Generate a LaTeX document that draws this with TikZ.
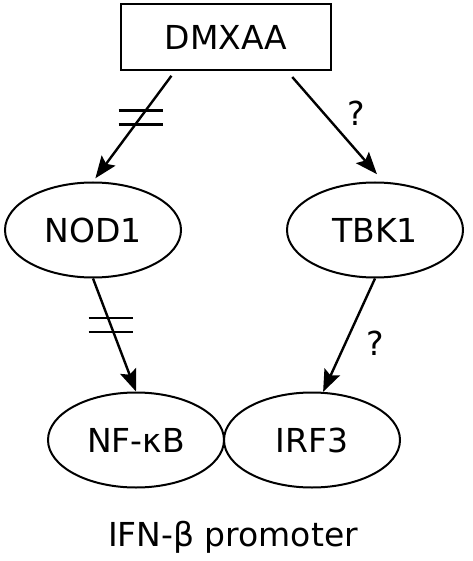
\documentclass[tikz,border=0pt]{standalone}
\usepackage{fontspec}
\setmainfont{DejaVu Sans}
\usetikzlibrary{shapes.geometric,arrows.meta}

\begin{document}
\begin{tikzpicture}[x=1pt,y=-1pt,line width=2pt,font=\fontsize{33}{40}\selectfont,
    ell/.style={ellipse,draw,minimum width=176pt,minimum height=95pt,inner sep=0pt},
    arr/.style={-{Stealth[length=22pt,width=17pt,inset=4pt]},line width=2.4pt}]
        \useasboundingbox (0,0) rectangle (472,561);

        % 节点
        \node[draw,minimum width=210pt,minimum height=66pt] (dmxaa) at (226,37) {DMXAA};
        \node[ell] (nod1) at (93,230) {NOD1};
        \node[ell] (tbk1) at (375,230) {TBK1};
        \node[ell] (nfkb) at (136,440) {NF-κB};
        \node[ell] (irf3) at (312,440) {IRF3};
        \node[anchor=base] (ifnb) at (233,546) {IFN-β promoter};

        % 箭头
        \draw[arr,shorten <=6pt,shorten >=4pt] ([xshift=55pt]dmxaa.south west) -- coordinate[pos=0.42] (cut1) (nod1.north);
        \draw[arr,shorten <=8pt,shorten >=10pt] ([xshift=-45pt]dmxaa.south east) -- (tbk1.80);
        \draw[arr] (nod1.south) -- coordinate[pos=0.41] (cut2) (nfkb.north);
        \draw[arr] (tbk1.south) -- (irf3.77);

        % 阻断记号及问号
        \draw[line width=2.4pt] ([shift={(-22,-7)}]cut1) -- ++(44,0);
        \draw[line width=2.4pt] ([shift={(-22,7)}]cut1) -- ++(44,0);
        \draw[line width=2.4pt] ([shift={(-22,-7)}]cut2) -- ++(44,0);
        \draw[line width=2.4pt] ([shift={(-22,7)}]cut2) -- ++(44,0);
        \node (q1) at (356,113) {?};
        \node (q2) at (375,343) {?};
    \end{tikzpicture}
\end{document}
